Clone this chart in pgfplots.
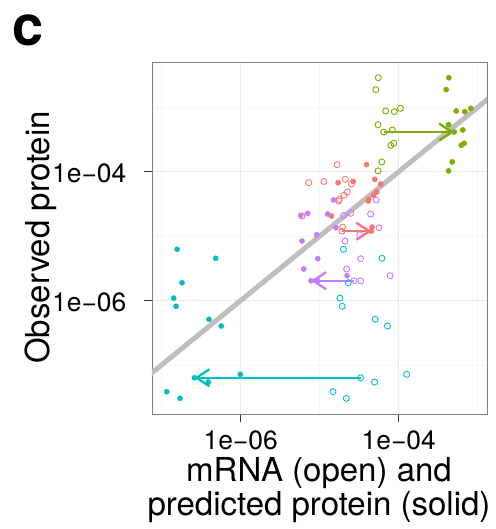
\documentclass[border=0pt]{standalone}
\usepackage{fontspec}
\setmainfont{TeX Gyre Heros}
\usepackage{pgfplots}
\pgfplotsset{compat=1.18}
\usetikzlibrary{arrows.meta}

\definecolor{gred}{HTML}{F8766D}
\definecolor{ggreen}{HTML}{7CAE00}
\definecolor{gcyan}{HTML}{00BFC4}
\definecolor{gpurple}{HTML}{C77CFF}
\definecolor{fitgrey}{HTML}{BEBEBE}

\pgfplotsset{
  openpt/.style={only marks, mark=o, mark size=3pt, mark options={line width=0.9pt}},
  solidpt/.style={only marks, mark=*, mark size=2.6pt},
  shiftarrow/.style={no marks, line width=2.3pt, -{Straight Barb[length=13pt,width=17pt]}},
}

\begin{document}
\begin{tikzpicture}
\useasboundingbox (-152pt,-115pt) rectangle (343pt,414pt);
\begin{axis}[
  at={(0pt,0pt)}, anchor=south west,
  scale only axis, width=335pt, height=352pt,
  xmode=log, ymode=log,
  xmin=7.54e-8, xmax=1.31e-3, ymin=1.73e-8, ymax=5.05e-3,
  xtick={1e-6,1e-4}, ytick={1e-6,1e-4},
  xticklabels={1e−06,1e−04}, yticklabels={1e−06,1e−04},
  minor xtick={1e-7,1e-5,1e-3}, minor ytick={1e-7,1e-5,1e-3},
  grid=both,
  major grid style={draw=black!8, line width=1.1pt},
  minor grid style={draw=black!3, line width=0.7pt},
  tick pos=left, tick align=outside,
  major tick length=8.5pt, minor tick length=0pt,
  tick style={black!80, line width=0.9pt},
  axis line style={black!50, line width=0.8pt},
  ticklabel style={font=\fontsize{26.4}{30}\selectfont, inner sep=0pt},
  xticklabel style={anchor=base, yshift=-27pt},
  yticklabel style={anchor=east, xshift=-17pt, yshift=-1.5pt},
]
% fitted line, slope one
\addplot[fitgrey, line width=5pt, no marks] coordinates {(1e-8,1e-8) (1e-2,1e-2)};

% mRNA (open)
\addplot[gred, openpt] coordinates {
  (1.66e-5,1.29e-4) (7.26e-6,6.75e-5) (1.13e-5,7.05e-5) (2.11e-5,7.62e-5)
  (2.51e-5,6.44e-5) (2.23e-5,4.84e-5) (2.03e-5,4.31e-5) (1.77e-5,3.72e-5)
  (1.74e-5,3.51e-5) (5.97e-6,2.05e-5) (1.95e-5,1.38e-5) (1.91e-5,1.19e-5)};
\addplot[ggreen, openpt] coordinates {
  (5.52e-5,2.88e-3) (5.12e-5,1.88e-3) (6.84e-5,8.77e-4) (8.79e-5,8.55e-4)
  (1.05e-4,9.64e-4) (5.47e-5,5.37e-4) (6.46e-5,4.13e-4) (8.30e-5,4.45e-4)
  (7.93e-5,2.57e-4) (8.65e-5,2.76e-4) (6.10e-5,1.42e-4) (5.47e-5,1.03e-4)};
\addplot[gcyan, openpt] coordinates {
  (2.00e-5,6.24e-6) (6.13e-5,4.52e-6) (2.30e-5,1.89e-6) (1.80e-5,1.09e-6)
  (1.93e-5,8.13e-7) (5.04e-5,5.11e-7) (7.21e-5,4.02e-7) (1.26e-4,7.14e-8)
  (3.29e-5,6.32e-8) (4.94e-5,5.42e-8) (1.47e-5,3.84e-8) (2.17e-5,3.03e-8)};
\addplot[gpurple, openpt] coordinates {
  (5.20e-5,3.64e-5) (2.01e-5,2.10e-5) (2.47e-5,2.26e-5) (4.41e-5,2.20e-5)
  (3.21e-5,1.05e-5) (5.64e-5,1.35e-5) (2.09e-5,8.39e-6) (3.30e-5,4.46e-6)
  (2.19e-5,3.08e-6) (7.77e-5,2.43e-6) (2.72e-5,2.03e-6) (3.30e-5,2.03e-6)};

% predicted protein (solid)
\addplot[gred, solidpt] coordinates {
  (3.91e-5,1.29e-4) (1.71e-5,6.75e-5) (2.66e-5,7.05e-5) (4.98e-5,7.62e-5)
  (5.92e-5,6.44e-5) (5.26e-5,4.84e-5) (4.79e-5,4.31e-5) (4.18e-5,3.72e-5)
  (4.11e-5,3.51e-5) (1.41e-5,2.05e-5) (4.60e-5,1.38e-5) (4.51e-5,1.19e-5)};
\addplot[ggreen, solidpt] coordinates {
  (4.31e-4,2.88e-3) (3.99e-4,1.88e-3) (5.34e-4,8.77e-4) (6.86e-4,8.55e-4)
  (8.17e-4,9.64e-4) (4.27e-4,5.37e-4) (5.04e-4,4.13e-4) (6.47e-4,4.45e-4)
  (6.19e-4,2.57e-4) (6.75e-4,2.76e-4) (4.76e-4,1.42e-4) (4.27e-4,1.03e-4)};
\addplot[gcyan, solidpt] coordinates {
  (1.57e-7,6.24e-6) (4.83e-7,4.52e-6) (1.81e-7,1.89e-6) (1.42e-7,1.09e-6)
  (1.52e-7,8.13e-7) (3.97e-7,5.11e-7) (5.68e-7,4.02e-7) (9.89e-7,7.14e-8)
  (2.59e-7,6.32e-8) (3.89e-7,5.42e-8) (1.16e-7,3.84e-8) (1.71e-7,3.03e-8)};
\addplot[gpurple, solidpt] coordinates {
  (1.49e-5,3.64e-5) (5.74e-6,2.10e-5) (7.05e-6,2.26e-5) (1.26e-5,2.20e-5)
  (9.16e-6,1.05e-5) (1.61e-5,1.35e-5) (5.97e-6,8.39e-6) (9.44e-6,4.46e-6)
  (6.27e-6,3.08e-6) (2.22e-5,2.43e-6) (7.76e-6,2.03e-6) (9.44e-6,2.03e-6)};

% shift from mRNA to predicted protein
\addplot[gred, shiftarrow] coordinates {(1.91e-5,1.19e-5) (4.51e-5,1.19e-5)};
\addplot[ggreen, shiftarrow] coordinates {(6.46e-5,4.13e-4) (5.04e-4,4.13e-4)};
\addplot[gcyan, shiftarrow] coordinates {(3.29e-5,6.32e-8) (2.59e-7,6.32e-8)};
\addplot[gpurple, shiftarrow] coordinates {(2.72e-5,2.03e-6) (7.76e-6,2.03e-6)};
\end{axis}

\node[anchor=base, rotate=90, font=\fontsize{33}{36}\selectfont] at (-102pt,176.5pt) {Observed protein};
\node[anchor=base, font=\fontsize{33}{36}\selectfont] at (167pt,-67.7pt) {mRNA (open) and};
\node[anchor=base, font=\fontsize{33}{36}\selectfont] at (167pt,-101pt) {predicted protein (solid)};
\node[anchor=base west, inner sep=0pt, font=\fontsize{56}{60}\selectfont\bfseries] at (-140pt,368pt) {c};
\end{tikzpicture}
\end{document}
